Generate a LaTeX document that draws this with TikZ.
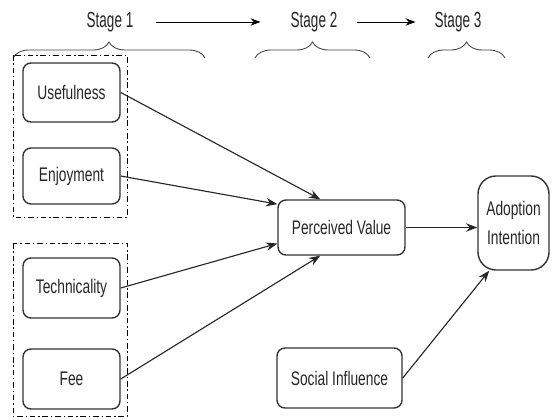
\documentclass[tikz,border=0pt]{standalone}
\usepackage{fontspec}
\setmainfont[FakeStretch=0.7]{Liberation Sans}
\newfontfamily\stagefont[FakeStretch=0.62]{Liberation Sans}
\usetikzlibrary{arrows.meta,decorations.pathreplacing}

\tikzset{
	factor/.style={draw=black!80, line width=1pt, rounded corners=0.2cm, align=center, inner sep=0pt, text=black!85},
	link/.style={-{Stealth[length=8pt,width=6pt]}, line width=0.8pt, black!85},
	group/.style={dash pattern=on 4pt off 2pt on 1pt off 2pt, line width=0.6pt},
	stagebrace/.style={decorate, decoration={brace, amplitude=0.4cm}, line width=0.6pt, black!75},
	stagelabel/.style={inner sep=0pt, font=\stagefont\fontsize{15.5}{17}\selectfont, text=black!85},
}

\begin{document}
\begin{tikzpicture}[x=0.025cm, y=-0.025cm, font=\fontsize{14}{16}\selectfont]
			\useasboundingbox (0,0) rectangle (556,419);
			
			\node[stagelabel] (s1) at (110,22) {Stage 1};
			\node[stagelabel] (s2) at (314,22) {Stage 2};
			\node[stagelabel] (s3) at (458,22) {Stage 3};
			\draw[->, >={Stealth[length=7pt]}, line width=0.7pt, shorten <=0.56cm, shorten >=0.75cm] (s1.east) -- (s2.west);
			\draw[->, >={Stealth[length=7pt]}, line width=0.7pt, shorten <=0.475cm, shorten >=0.475cm] (s2.east) -- (s3.west);
			
			\draw[stagebrace] (13,58) -- (205,58);
			\draw[stagebrace] (255,58) -- (370,58);
			\draw[stagebrace] (428,58) -- (505,58);
			
			\draw[group] (13,55) rectangle (127,217);
			\draw[group] (13,243) rectangle (127,416);
			
			\node[factor, minimum width=2.425cm, minimum height=1.475cm] (use) at (71.5,92.5) {Usefulness};
			\node[factor, minimum width=2.425cm, minimum height=1.4cm] (enj) at (71.5,176) {Enjoyment};
			\node[factor, minimum width=2.425cm, minimum height=1.5cm] (tech) at (71.5,288) {Technicality};
			\node[factor, minimum width=2.425cm, minimum height=1.5cm] (fee) at (71.5,379) {Fee};
			
			\node[factor, minimum width=3.175cm, minimum height=1.375cm] (pv) at (341.5,227.5) {Perceived Value};
			\node[factor, minimum width=3.125cm, minimum height=1.5cm] (si) at (339.5,378) {Social Influence};
			\node[factor, rounded corners=0.45cm, minimum width=1.775cm, minimum height=2.35cm, font=\fontsize{14}{20}\selectfont] (ai) at (513.5,223) {Adoption\\Intention};
			
			\draw[link] (use.east) -- (pv.127);
			\draw[link] (enj.east) -- (pv.160);
			\draw[link] (tech.east) -- (pv.194);
			\draw[link] (fee.east) -- (pv.233);
			\draw[link] (pv.east) -- (pv.east -| ai.west);
			\draw[link] (si.east) -- (ai.-117);
		\end{tikzpicture}
\end{document}
